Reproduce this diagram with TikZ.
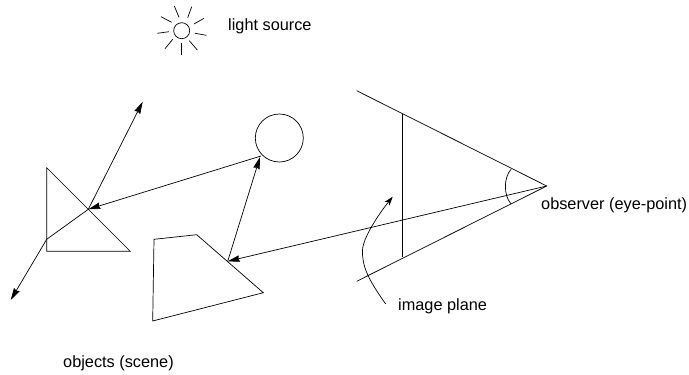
\documentclass[tikz,border=0pt]{standalone}
\usepackage{fontspec}
\setmainfont{Liberation Sans}
\usetikzlibrary{arrows.meta}
\tikzset{
  ln/.style={line width=0.7pt,black,line join=miter},
  arr/.style={ln,-{Stealth[length=12pt,width=6.5pt,inset=1pt]}},
  lbl/.style={anchor=west,inner sep=0pt,font=\fontsize{16.3}{18}\selectfont}
}
\begin{document}
\begin{tikzpicture}[x=1pt,y=-1pt]
\useasboundingbox (0,0) rectangle (689,375);
% sun
\node[ln,draw,circle,minimum size=16pt,inner sep=0pt] (sun) at (181.7,30.7) {};
\foreach \a/\b/\c/\d in {179/17.3/174.3/6,187.7/17.7/191.7/6.7,194/24/204/18.3,195/33.3/206.3/35.3,189.3/40.7/197.3/50,181/42.7/181/55,172.7/39.3/165/48.7,169/31.7/157.3/33.3,171.7/22.3/161/16.7}
  \draw[ln] (\a,\b) -- (\c,\d);
% objects
\node[ln,draw,circle,minimum size=48pt,inner sep=0pt] (ball) at (279.3,138) {};
\coordinate (t1) at (46.7,167.7);
\coordinate (t2) at (46.7,251.3);
\coordinate (t3) at (130.3,251.3);
\draw[ln] (t1) -- (t2) -- (t3) -- cycle;
\coordinate (q1) at (154,239.3);
\coordinate (q2) at (196.7,234.7);
\coordinate (q3) at (263.3,292.7);
\coordinate (q4) at (152.7,321);
\draw[ln] (q1) -- (q2) -- (q3) -- (q4) -- cycle;
\coordinate (hit) at (88.3,209.3);
\coordinate (exit) at (46.7,239.3);
\coordinate (reflA) at (142.7,101.7);
\coordinate (refrA) at (10.7,300);
\coordinate (ballA) at (261,156);
\coordinate (ballB) at (260,157);
\coordinate (hitQ) at (227.7,261.3);
\coordinate (eye) at (546.7,186);
\draw[arr] (hit) -- (reflA);
\draw[arr] (ballA) -- (hit);
\draw[ln] (hit) -- (exit);
\draw[arr] (exit) -- (refrA);
\draw[arr] (hitQ) -- (ballB);
\draw[arr] (eye) -- (hitQ);
% view frustum
\coordinate (top) at (356.7,90.7);
\coordinate (bot) at (356.7,281.3);
\coordinate (ipT) at (402.7,114.3);
\coordinate (ipB) at (402.7,257.3);
\draw[ln] (top) -- (eye) -- (bot);
\draw[ln] (ipT) -- (ipB);
\coordinate (a1) at (511,169.3);
\coordinate (a2) at (511,204);
\draw[ln] (a1) .. controls (503.5,178) and (503.5,195) .. (a2);
% curved pointer
\coordinate (c1) at (385.7,304);
\coordinate (c2) at (392.7,196.7);
\draw[ln,-{Stealth[length=9pt,width=6pt,inset=2.5pt]}] (c1) .. controls (367,278) and (362,265) .. (362.5,250) .. controls (363,238) and (378,215) .. (c2);
% labels
\node[lbl] (lsrc) at (228,26) {light source};
\node[lbl] (obs) at (541,205.5) {observer (eye-point)};
\node[lbl] (imgp) at (398,306.5) {image plane};
\node[lbl] (objs) at (63,363.5) {objects (scene)};
\end{tikzpicture}
\end{document}
